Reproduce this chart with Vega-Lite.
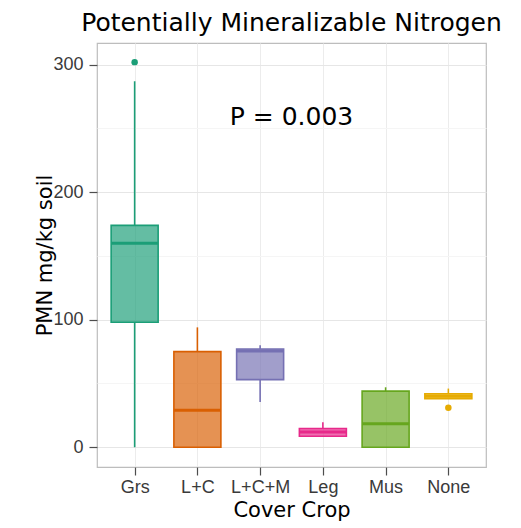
{
  "$schema": "https://vega.github.io/schema/vega-lite/v6.json",
  "width": 389,
  "height": 424,
  "autosize": "none",
  "padding": {"left": 97, "top": 43, "right": 35, "bottom": 61},
  "background": "white",
  "title": {
    "text": "Potentially Mineralizable Nitrogen",
    "font": "DejaVu Sans",
    "fontSize": 25,
    "fontWeight": "normal",
    "color": "#000000",
    "anchor": "middle",
    "offset": 7
  },
  "config": {
    "view": {"stroke": "#bdbdbd", "strokeWidth": 1.2},
    "font": "DejaVu Sans",
    "axis": {
      "labelFont": "Liberation Sans",
      "labelFontSize": 18,
      "labelColor": "#3a3a3a",
      "tickColor": "#4d4d4d",
      "tickSize": 8,
      "tickWidth": 1.2,
      "domain": false,
      "titleFont": "DejaVu Sans",
      "titleFontSize": 21,
      "titleFontWeight": "normal",
      "titleColor": "#000000"
    }
  },
  "datasets": {
    "boxes": [
      {"crop": "Grs", "lower": 0, "q1": 98, "median": 160, "q3": 174, "upper": 287},
      {"crop": "L+C", "lower": 0, "q1": 0, "median": 29, "q3": 75, "upper": 94},
      {"crop": "L+C+M", "lower": 35.5, "q1": 53, "median": 75.5, "q3": 77, "upper": 80},
      {"crop": "Leg", "lower": 8.6, "q1": 8.6, "median": 12, "q3": 14.7, "upper": 19.5},
      {"crop": "Mus", "lower": 0, "q1": 0, "median": 18.5, "q3": 44, "upper": 47},
      {"crop": "None", "lower": 38, "q1": 38, "median": 40, "q3": 42, "upper": 46}
    ],
    "outliers": [
      {"crop": "Grs", "value": 302},
      {"crop": "None", "value": 31}
    ],
    "notes": [
      {"label": "P = 0.003", "pos": 3.5, "value": 259}
    ]
  },
  "layer": [
    {
      "encoding": {
        "x": {
          "field": "crop",
          "type": "nominal",
          "scale": {"type": "point", "domain": ["Grs", "L+C", "L+C+M", "Leg", "Mus", "None"], "padding": 0.6},
          "axis": {
            "title": "Cover Crop",
            "labelAngle": 0,
            "labelPadding": 3,
            "titlePadding": 3,
            "grid": true,
            "gridColor": "#ececec",
            "gridWidth": 1
          }
        },
        "color": {
          "field": "crop",
          "type": "nominal",
          "scale": {
            "domain": ["Grs", "L+C", "L+C+M", "Leg", "Mus", "None"],
            "range": ["#1B9E77", "#D95F02", "#7570B3", "#E7298A", "#66A61E", "#E6AB02"]
          },
          "legend": null
        }
      },
      "layer": [
        {
          "data": {"name": "boxes"},
          "mark": {"type": "rule", "strokeWidth": 1.6},
          "encoding": {
            "y": {
              "field": "lower",
              "type": "quantitative",
              "scale": {"domain": [-15.5, 317], "nice": false, "zero": false},
              "axis": {
                "title": "PMN mg/kg soil",
                "values": [0, 50, 100, 150, 200, 250, 300],
                "labelExpr": "datum.value % 100 === 0 ? datum.label : ''",
                "tickOpacity": {"condition": {"test": "datum.value % 100 === 0", "value": 1}, "value": 0},
                "gridColor": {"condition": {"test": "datum.value % 100 === 0", "value": "#e6e6e6"}, "value": "#f5f5f5"},
                "grid": true,
                "labelPadding": 6,
                "titlePadding": -3
              }
            },
            "y2": {"field": "q1"}
          }
        },
        {
          "data": {"name": "boxes"},
          "mark": {"type": "rule", "strokeWidth": 1.6},
          "encoding": {
            "y": {"field": "q3", "type": "quantitative"},
            "y2": {"field": "upper"}
          }
        },
        {
          "data": {"name": "boxes"},
          "mark": {"type": "bar", "size": 47, "fillOpacity": 0.68, "strokeWidth": 1.6},
          "encoding": {
            "y": {"field": "q1", "type": "quantitative"},
            "y2": {"field": "q3"},
            "stroke": {
              "field": "crop",
              "type": "nominal",
              "scale": {
                "domain": ["Grs", "L+C", "L+C+M", "Leg", "Mus", "None"],
                "range": ["#1B9E77", "#D95F02", "#7570B3", "#E7298A", "#66A61E", "#E6AB02"]
              },
              "legend": null
            }
          }
        },
        {
          "data": {"name": "boxes"},
          "mark": {"type": "tick", "size": 47, "thickness": 3, "opacity": 1},
          "encoding": {
            "y": {"field": "median", "type": "quantitative"}
          }
        },
        {
          "data": {"name": "outliers"},
          "mark": {"type": "point", "filled": true, "size": 42, "opacity": 1},
          "encoding": {
            "y": {"field": "value", "type": "quantitative"}
          }
        }
      ]
    },
    {
      "data": {"name": "notes"},
      "mark": {"type": "text", "font": "DejaVu Sans", "fontSize": 25, "color": "#000000", "baseline": "middle", "align": "center"},
      "encoding": {
        "x": {"field": "pos", "type": "quantitative", "scale": {"domain": [0.4, 6.6], "nice": false, "zero": false}, "axis": null},
        "y": {"field": "value", "type": "quantitative"},
        "text": {"field": "label"}
      }
    }
  ],
  "resolve": {"scale": {"x": "independent"}}
}
